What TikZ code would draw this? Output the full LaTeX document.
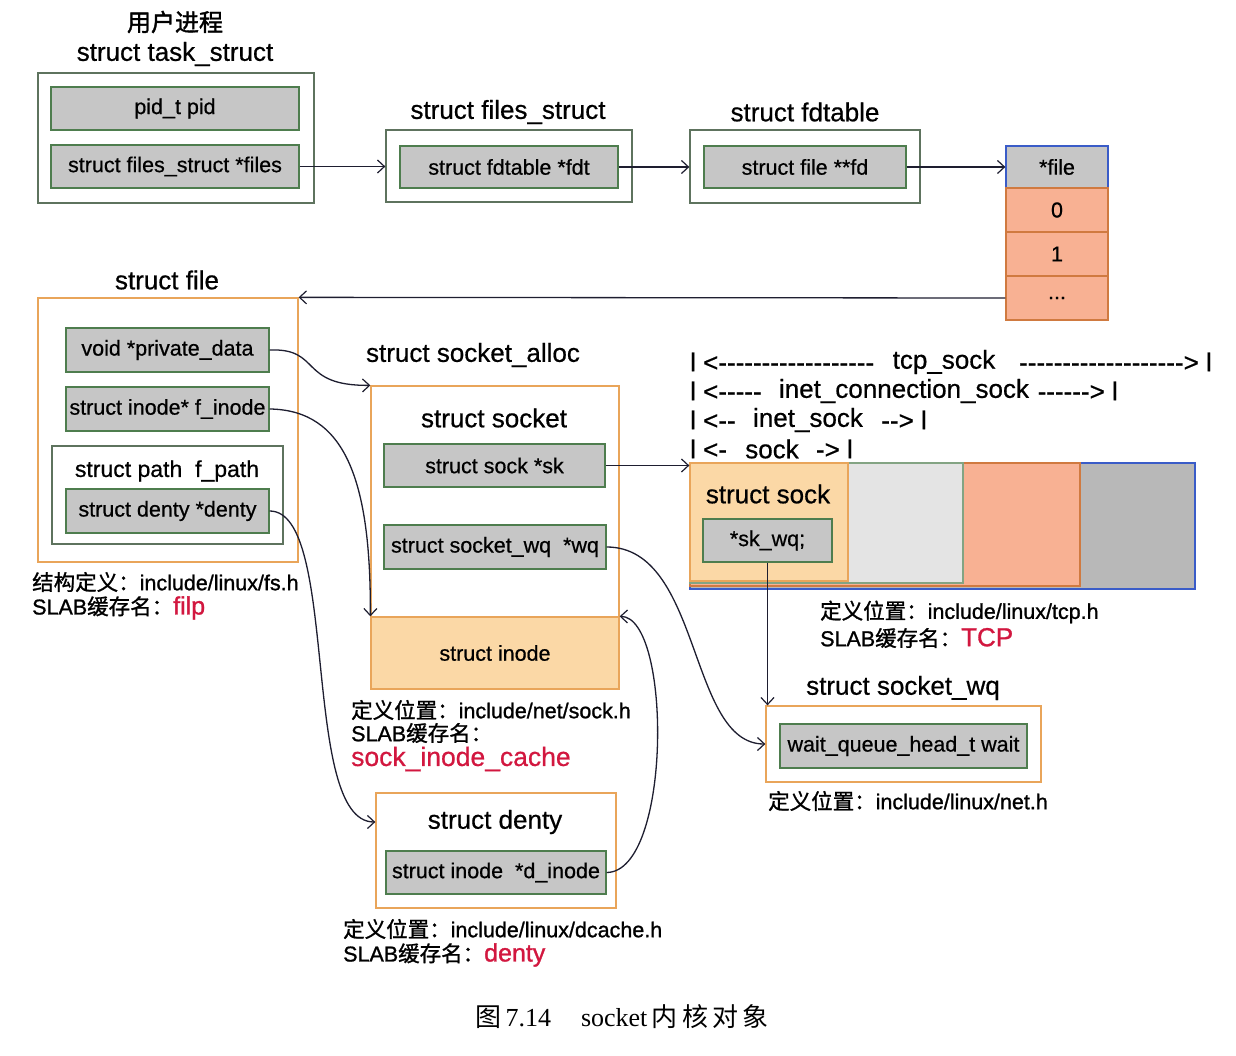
\documentclass[tikz,border=0pt]{standalone}
\usepackage{fontspec}
\setmainfont{Liberation Sans}[Ligatures=TeXOff, FakeBold=0.6]
\newfontfamily\notef[Ligatures=TeXOff, FakeBold=1.1]{Liberation Sans}
\newfontfamily\cjk[FakeBold=1.1]{Noto Sans CJK SC}
\newfontfamily\cjkb[FakeBold=1.6]{Noto Sans CJK SC}
\newfontfamily\cjkcap{Noto Sans CJK SC}
\newfontfamily\capserif{Liberation Serif}
\usetikzlibrary{arrows.meta}
\definecolor{fgray}{HTML}{C6C6C6}
\definecolor{fgreen}{HTML}{4E7D4E}
\definecolor{bgreen}{HTML}{5E735E}
\definecolor{orng}{HTML}{E9A55A}
\definecolor{dorng}{HTML}{D07A40}
\definecolor{lorng}{HTML}{FBD8A6}
\definecolor{salmon}{HTML}{F8B193}
\definecolor{redt}{HTML}{D2173F}
\definecolor{blueb}{HTML}{3A5CC8}
\definecolor{lgray}{HTML}{E4E4E4}
\definecolor{dgray}{HTML}{B8B8B8}
\definecolor{linec}{HTML}{1E1E30}
\newcommand\fszA{\fontsize{21.5}{24}\selectfont}
\newcommand\fszT{\fontsize{26}{30}\selectfont}
\newcommand\fszN{\notef\fontsize{21.5}{24}\selectfont}
\newcommand\fszR{\fontsize{25}{28}\selectfont}
\tikzset{
  field/.style={draw=fgreen, fill=fgray, line width=1.3pt, inner sep=0pt, minimum height=43pt, font=\fszA},
  outerbox/.style={draw=bgreen, line width=1.3pt, inner sep=0pt},
  obox/.style={draw=orng, line width=1.3pt, inner sep=0pt},
  ttl/.style={font=\fszT, inner sep=0pt},
  note/.style={font=\fszN, anchor=west, inner sep=0pt},
  cell/.style={draw=dorng, fill=salmon, line width=1.3pt, inner sep=0pt, minimum width=102pt, minimum height=44pt, font=\fszA},
  lenlbl/.style={font=\fszT, inner sep=0pt},
  conn/.style={draw=linec, line width=1.3pt, -{Straight Barb[length=7pt,width=13pt,line width=1.2pt]}}
}
\begin{document}
\begin{tikzpicture}[x=1pt,y=-1pt]
\useasboundingbox (0,0) rectangle (1236,1056);
\fill[white] (0,0) rectangle (1236,1056);

% task_struct
\node[ttl,font=\fontsize{24}{28}\selectfont] (t1) at (175,22) {\cjkb 用户进程};
\node[ttl] (t2) at (175,54) {struct task\_struct};
\node[outerbox, minimum width=276pt, minimum height=130pt] (task) at (176,138) {};
\node[field, minimum width=248pt] (pid) at (175,108.5) {pid\_t pid};
\node[field, minimum width=248pt] (files) at (175,166.5) {struct files\_struct *files};

% files_struct
\node[ttl] (t3) at (508,112) {struct files\_struct};
\node[outerbox, minimum width=246pt, minimum height=72pt] (fs) at (509,166) {};
\node[field, minimum width=218pt, minimum height=42pt] (fdt) at (509,167) {struct fdtable *fdt};

% fdtable
\node[ttl] (t4) at (805,112) {struct fdtable};
\node[outerbox, minimum width=230pt, minimum height=73pt] (fdtab) at (805,166.5) {};
\node[field, minimum width=202pt, minimum height=42pt] (fd) at (805,167) {struct file **fd};

% fd array
\node[cell, fill=fgray, draw=blueb, minimum height=42pt] (fcell) at (1057,167) {*file};
\node[cell] (c0) at (1057,210) {0};
\node[cell] (c1) at (1057,254) {1};
\node[cell] (cd) at (1057,298) {...};

\draw[conn] (files.east) -- (files.east -| fs.west);
\draw[conn] (fdt.east) -- (fdt.east -| fdtab.west);
\draw[conn] (fd.east) -- (fcell.west);

% struct file
\node[ttl] (t5) at (167,280) {struct file};
\node[obox, minimum width=260pt, minimum height=264pt] (sfile) at (168,430) {};
\node[field, minimum width=203pt, minimum height=44pt] (pd) at (167.5,350) {void *private\_data};
\node[field, minimum width=203pt, minimum height=44pt] (fi) at (167.5,409) {struct inode* f\_inode};
\node[outerbox, minimum width=231pt, minimum height=98pt] (fpath) at (167.5,495) {};
\node[ttl, font=\fontsize{23}{26}\selectfont] (t6) at (167,471) {struct path\ \ f\_path};
\node[field, minimum width=203pt, minimum height=44pt] (dn) at (167.5,511) {struct denty *denty};
\draw[conn] (cd.west) -- (sfile.north east);

\node[note] (n1) at (32,582) {{\cjk 结构定义：}include/linux/fs.h};
\node[note] (n2) at (32,608) {SLAB{\cjk 缓存名：}\textcolor{redt}{\fszR filp}};

% socket_alloc
\node[ttl] (t7) at (473,355) {struct socket\_alloc};
\node[obox, minimum width=248pt, minimum height=303pt] (sa) at (495,537.5) {};
\node[ttl] (t8) at (494,418) {struct socket};
\node[field, minimum width=221pt, minimum height=43pt] (sk) at (494.5,465.5) {struct sock *sk};
\node[field, minimum width=222pt, minimum height=44pt] (wq) at (495,547) {struct socket\_wq\ \ *wq};
\node[obox, fill=lorng, minimum width=248pt, minimum height=72pt, font=\fszA] (inode) at (495,653) {struct inode};

\node[note] (n3) at (351,710) {{\cjk 定义位置：}include/net/sock.h};
\node[note] (n4) at (351,733) {SLAB{\cjk 缓存名：}};
\node[note, font=\fontsize{26.5}{30}\selectfont, text=redt] (n5) at (351,759) {sock\_inode\_cache};

% denty
\node[obox, minimum width=240pt, minimum height=115pt] (dbox) at (496,850.5) {};
\node[ttl] (t9) at (495,822) {struct denty};
\node[field, minimum width=220pt, minimum height=43pt] (dinode) at (496,872.5) {struct inode\ \ *d\_inode};
\node[note] (n6) at (343,929) {{\cjk 定义位置：}include/linux/dcache.h};
\node[note] (n7) at (343,955) {SLAB{\cjk 缓存名：}\textcolor{redt}{\fszR denty}};

% tcp_sock labels
\node[lenlbl, anchor=west] (l1a) at (690,362) {l <------------------};
\node[lenlbl] (l1b) at (944,362) {tcp\_sock};
\node[lenlbl, anchor=east] (l1c) at (1212,362) {-------------------> l};
\node[lenlbl, anchor=west] (l2a) at (690,391) {l <-----};
\node[lenlbl] (l2b) at (904,391) {inet\_connection\_sock};
\node[lenlbl, anchor=east] (l2c) at (1118,391) {------> l};
\node[lenlbl, anchor=west] (l3a) at (690,420) {l <--};
\node[lenlbl] (l3b) at (808,420) {inet\_sock};
\node[lenlbl, anchor=east] (l3c) at (927,420) {--> l};
\node[lenlbl, anchor=west] (l4a) at (690,449) {l <-};
\node[lenlbl] (l4b) at (772,449) {sock};
\node[lenlbl, anchor=east] (l4c) at (853,449) {-> l};

% sock block
\node[draw=blueb, fill=dgray, line width=1.3pt, inner sep=0pt, minimum width=505pt, minimum height=126pt] (tcpb) at (942.5,526) {};
\node[draw=dorng, fill=salmon, line width=1.3pt, inner sep=0pt, minimum width=390pt, minimum height=123pt] (icsk) at (885,524.5) {};
\node[draw=fgreen!70, fill=lgray, line width=1.2pt, inner sep=0pt, minimum width=273pt, minimum height=120pt] (inet) at (826.5,523) {};
\node[draw=orng, fill=lorng, line width=1.3pt, inner sep=0pt, minimum width=158pt, minimum height=118pt] (sock) at (769,522) {};
\node[ttl] (t10) at (768,494) {struct sock};
\node[field, minimum width=129pt, minimum height=43pt] (skwq) at (767.5,540.5) {*sk\_wq;};

\node[note] (n8) at (820,612) {{\cjk 定义位置：}include/linux/tcp.h};
\node[note] (n9) at (820,638) {SLAB{\cjk 缓存名：}\textcolor{redt}{\fontsize{26}{30}\selectfont TCP}};

% socket_wq
\node[ttl] (t11) at (903,688) {struct socket\_wq};
\node[obox, minimum width=275pt, minimum height=76pt] (swq) at (903.5,744) {};
\node[field, minimum width=247pt, minimum height=44pt] (wait) at (903.5,746) {wait\_queue\_head\_t wait};
\node[note] (n10) at (768,801) {{\cjk 定义位置：}include/linux/net.h};

% connectors
\draw[conn] (sk.east) -- (sk.east -| tcpb.west);
\draw[conn] (pd.east) .. controls (322,348) and (298,386) .. (sa.north west);
\draw[conn] (fi.east) .. controls (345,410) and (371,480) .. (inode.north west);
\draw[conn] (dn.east) .. controls (340,511) and (300,822) .. (t9 -| dbox.west);
\draw[conn] (dinode.east) .. controls (672,872) and (672,617) .. (inode.north east);
\draw[conn] (wq.east) .. controls (702,547) and (688,744) .. (swq.west);
\draw[conn] (skwq.south) -- (skwq.south |- swq.north);

% caption
\node[inner sep=0pt, font=\fontsize{26}{30}\selectfont] (cap) at (622,1017) {{\cjkcap 图}\capserif\,7.14\hspace{30pt}socket{\cjkcap \,内\,核\,对\,象}};
\end{tikzpicture}
\end{document}
